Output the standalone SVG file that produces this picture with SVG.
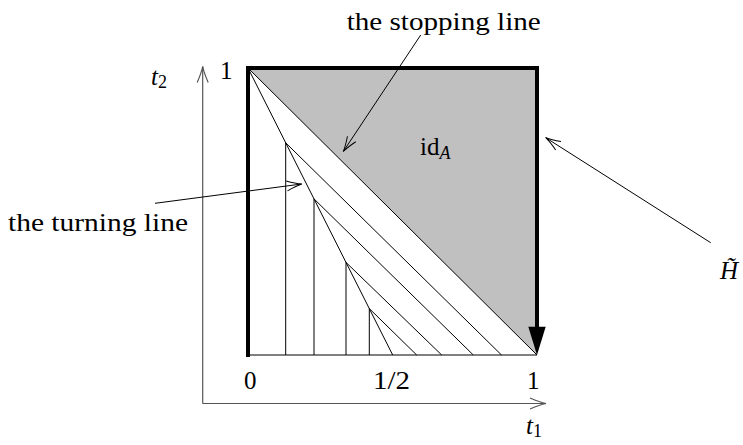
<svg xmlns="http://www.w3.org/2000/svg" width="743" height="445" viewBox="0 0 743 445">
<style>
text{font-family:"Liberation Serif","Times New Roman",serif;font-size:25px;fill:#000}
.it{font-style:italic}
.thin{stroke:#000;stroke-width:1;fill:none}
.thick{stroke:#000;stroke-width:4;fill:none}
.axis{stroke:#555;stroke-width:1.2;fill:none}
</style>
<defs>
<marker id="open" markerUnits="userSpaceOnUse" markerWidth="20" markerHeight="14" viewBox="-16 -7 18 14" refX="0" refY="0" orient="auto">
<path d="M-15,-5 Q-6,-1.2 0,0 Q-6,1.2 -15,5" fill="none" stroke="#000" stroke-width="1"/>
</marker>
<marker id="openg" markerUnits="userSpaceOnUse" markerWidth="20" markerHeight="14" viewBox="-16 -7 18 14" refX="0" refY="0" orient="auto">
<path d="M-16,-5.5 Q-6,-1.2 0,0 Q-6,1.2 -16,5.5" fill="none" stroke="#555" stroke-width="1.2"/>
</marker>
</defs>

<g id="axes">
<line class="axis" x1="202.7" y1="403.5" x2="202.7" y2="66.5" marker-end="url(#openg)"/>
<line class="axis" x1="202.7" y1="403.5" x2="546" y2="403.5" marker-end="url(#openg)"/>
<text x="151" y="85" class="it">t<tspan font-size="18" font-style="normal" dy="3">2</tspan></text>
<text x="526" y="434" class="it">t<tspan font-size="18" font-style="normal" dy="3">1</tspan></text>
</g>

<g id="square">
<polygon points="248,68 537,68 537,355" fill="#c0c0c0"/>
<line class="thin" x1="248" y1="355" x2="537" y2="355"/>
<line class="thin" x1="248" y1="68" x2="537" y2="355"/>
<line class="thin" x1="248" y1="68" x2="392.7" y2="355"/>
<line class="thin" x1="285.7" y1="142.8" x2="285.7" y2="355"/>
<line class="thin" x1="314" y1="198.9" x2="314" y2="355"/>
<line class="thin" x1="346" y1="262.4" x2="346" y2="355"/>
<line class="thin" x1="369.3" y1="308.6" x2="369.3" y2="355"/>
<line class="thin" x1="285.7" y1="142.8" x2="501.5" y2="355"/>
<line class="thin" x1="314" y1="198.9" x2="473.3" y2="355"/>
<line class="thin" x1="346" y1="262.4" x2="441.7" y2="355"/>
<line class="thin" x1="369.3" y1="308.6" x2="416.7" y2="355"/>
<path class="thick" d="M248,357 V68 H537 V328"/>
<polygon points="528.3,326.7 545.7,326.7 537,355" fill="#000"/>
</g>

<g id="labels">
<text x="220" y="79">1</text>
<text x="244" y="389">0</text>
<text x="373" y="389" textLength="37" lengthAdjust="spacingAndGlyphs">1/2</text>
<text x="527" y="389">1</text>
<text x="420" y="155">id<tspan class="it" font-size="18" dy="4">A</tspan></text>
<text x="720" y="279" class="it" font-size="26">H̃</text>
</g>

<g id="stopping-label">
<text x="346.7" y="30" textLength="194" lengthAdjust="spacingAndGlyphs">the stopping line</text>
</g>
<g id="turning-label">
<text x="8" y="231" textLength="180" lengthAdjust="spacingAndGlyphs">the turning line</text>
</g>

<g id="connectors">
<line class="thin" x1="420.7" y1="35" x2="343.3" y2="151.5" marker-end="url(#open)"/>
<line class="thin" x1="155" y1="203.3" x2="301.7" y2="184" marker-end="url(#open)"/>
<line class="thin" x1="710.7" y1="242.7" x2="545.7" y2="137.7" marker-end="url(#open)"/>
</g>
</svg>
